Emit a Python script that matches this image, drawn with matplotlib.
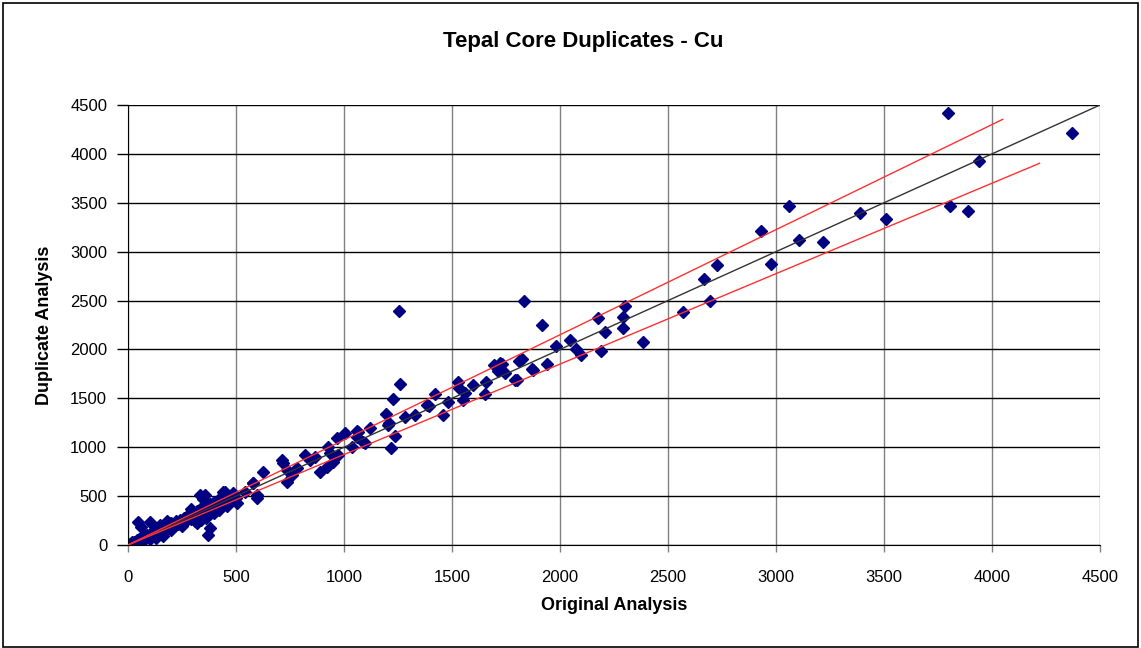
import matplotlib.pyplot as plt
from matplotlib.patches import Rectangle

plt.rcParams['font.family'] = ['Liberation Sans', 'DejaVu Sans']

# Cu assays: original vs duplicate (ppm)
original = [
    5, 10, 15, 20, 25, 30, 35, 40, 45, 50, 55, 60, 65, 70, 75, 80, 85, 90, 95, 100,
    105, 110, 115, 120, 125, 130, 135, 140, 145, 150, 155, 160, 165, 170, 175, 180,
    185, 190, 195, 200, 210, 220, 230, 240, 250, 260, 270, 280, 290, 300, 310, 320,
    330, 340, 350, 360, 370, 380, 390, 400, 410, 420, 430, 440, 450, 460, 470, 480,
    490, 500,
    48, 102, 148, 100, 130, 160, 180, 60, 200, 250, 380, 372, 333, 345, 356, 449,
    441, 472, 488, 503, 542, 580, 596, 596, 577, 627, 320, 290, 310, 340, 360, 400,
    420, 460,
    712, 719, 735, 735, 758, 781, 819, 843, 866, 889, 920, 951, 935, 974, 927, 966,
    1005, 1036, 1062, 1066, 1090, 1120, 1097, 1059,
    1193, 1205, 1210, 1236, 1216, 1228, 1259, 1255, 1282, 1329, 1383, 1395, 1421,
    1460, 1483, 1529, 1534, 1553, 1560, 1596, 1653, 1656, 1696, 1714, 1733, 1745,
    1722, 1792, 1799, 1811, 1822, 1833, 1869, 1873, 1915, 1938, 1980, 2046, 2074,
    2096, 2174, 2188, 2208, 2290, 2301, 2290, 2386, 2568, 2667, 2694, 2725, 2929,
    2975, 3060, 3108, 3218, 3389, 3508, 3798, 3806, 3887, 3940, 4369,
]
duplicate = [
    5, 15, 8, 30, 20, 35, 25, 50, 40, 60, 45, 70, 55, 80, 65, 95, 75, 100, 85, 110,
    90, 120, 100, 140, 110, 150, 120, 160, 130, 170, 140, 180, 150, 200, 160, 210,
    170, 220, 180, 230, 200, 250, 215, 260, 240, 280, 250, 310, 270, 330, 290, 350,
    300, 380, 330, 400, 350, 420, 360, 440, 380, 470, 400, 500, 430, 480, 440, 510,
    460, 480,
    238, 238, 204, 60, 70, 90, 250, 180, 150, 190, 170, 102, 511, 470, 511, 545,
    545, 460, 528, 426, 545, 631, 477, 511, 631, 750, 230, 370, 250, 260, 280, 330,
    360, 400,
    869, 835, 767, 648, 716, 784, 920, 869, 903, 750, 801, 852, 938, 920, 1006, 1091,
    1142, 1006, 1166, 1159, 1057, 1193, 1040, 1108,
    1340, 1227, 1245, 1115, 990, 1490, 1647, 2395, 1306, 1330, 1432, 1425, 1544,
    1330, 1466, 1670, 1602, 1483, 1551, 1636, 1544, 1670, 1841, 1783, 1848, 1762,
    1858, 1687, 1687, 1882, 1899, 2495, 1797, 1790, 2250, 1851, 2038, 2097, 2001,
    1946, 2318, 1987, 2178, 2335, 2444, 2216, 2073, 2386, 2720, 2497, 2862, 3208,
    2874, 3462, 3119, 3099, 3392, 3331, 4421, 3467, 3419, 3931, 4210,
]

# reference lines: 1:1 and +/- 7.5 % bounds
one_to_one = [0, 4500]
upper_x = [0, 4050]
lower_x = [0, 4220]
upper_factor = 1.075
lower_factor = 0.925

fig = plt.figure(figsize=(11.41, 6.48), dpi=100)
ax = fig.add_axes([128 / 1141, 1 - 545 / 648, 972 / 1141, 440 / 648])

ax.plot(one_to_one, one_to_one, color='#333333', lw=1, zorder=3)
ax.plot(upper_x, [v * upper_factor for v in upper_x], color='#ff3030', lw=1, zorder=3)
ax.plot(lower_x, [v * lower_factor for v in lower_x], color='#ff3030', lw=1, zorder=3)
ax.plot(original, duplicate, 'D', color='#000080', ms=6, mec='#000080', zorder=2)

ax.set_xlim(0, 4500)
ax.set_ylim(0, 4500)
ax.set_xticks(range(0, 4501, 500))
ax.set_yticks(range(0, 4501, 500))

# vertical grid grey, horizontal grid black
ax.xaxis.grid(True, color='#808080', lw=1)
ax.yaxis.grid(True, color='#000000', lw=1)
ax.set_axisbelow(True)

for side in ['top', 'right']:
    ax.spines[side].set_visible(False)
ax.spines['left'].set_color('black')
ax.spines['bottom'].set_color('black')

ax.tick_params(axis='y', direction='out', length=8, width=1, pad=7, labelsize=12)
ax.tick_params(axis='x', direction='out', length=5, width=1, color='#808080',
               pad=13, labelsize=12)

ax.set_xlabel('Original Analysis', fontsize=13, fontweight='bold', labelpad=9)
ax.set_ylabel('Duplicate Analysis', fontsize=13, fontweight='bold', labelpad=12)
fig.text(583 / 1141, 1 - 42 / 648, 'Tepal Core Duplicates - Cu', ha='center',
         va='center', fontsize=16, fontweight='bold')

# chart border
fig.patches.append(Rectangle((0.003, 0.002), 0.994, 0.994, transform=fig.transFigure,
                             fill=False, edgecolor='black', lw=1.2))

fig.savefig('out.png', dpi=100)
